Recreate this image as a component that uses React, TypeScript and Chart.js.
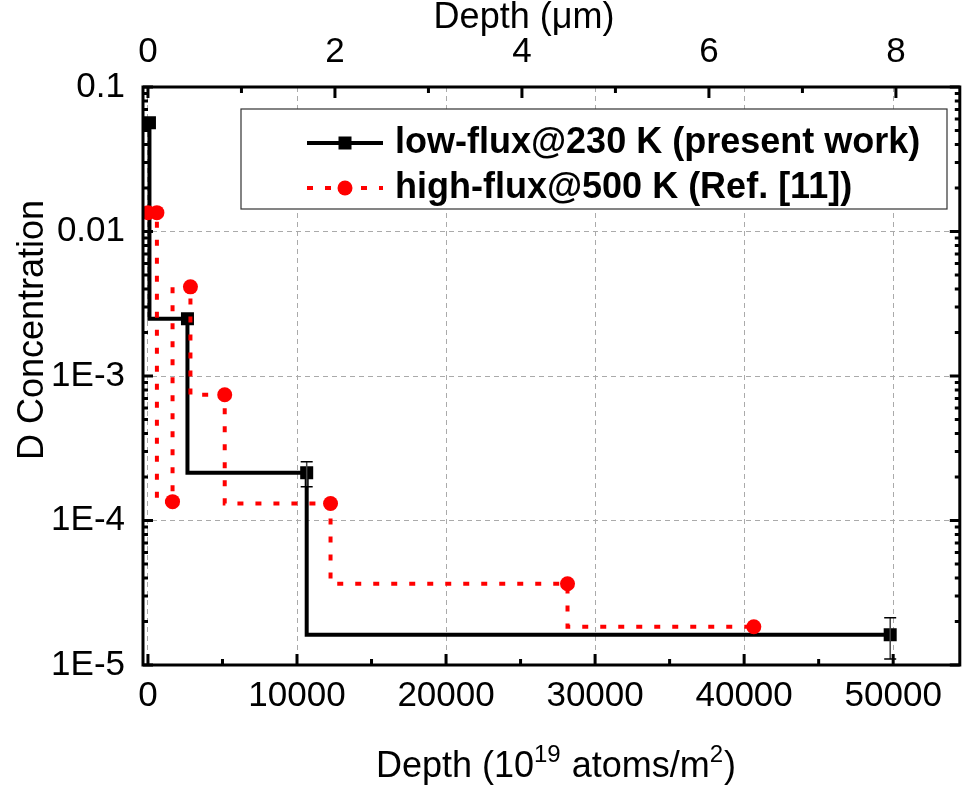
import React, { useEffect, useRef } from 'react';
import { Chart, registerables } from 'chart.js';

Chart.register(...registerables);

// ---- Data ----
const lowFluxDepth = [100, 2650, 10650, 49800];
const lowFluxConc = [0.0565, 2.49e-3, 2.14e-4, 1.62e-5];
const lowFluxErrLow: (number | null)[] = [null, null, 1.71e-4, 1.1e-5];
const lowFluxErrHigh: (number | null)[] = [null, null, 2.55e-4, 2.12e-5];

const highFluxDepth = [0, 600, 1650, 2850, 5150, 12250, 28150, 40650];
const highFluxConc = [0.0135, 0.0135, 1.35e-4, 4.14e-3, 7.41e-4, 1.31e-4, 3.65e-5, 1.84e-5];

const seriesLabels = ['low-flux@230 K (present work)', 'high-flux@500 K (Ref. [11])'];

const xTicks = [0, 10000, 20000, 30000, 40000, 50000];
const xMinorTicks = [5000, 15000, 25000, 35000, 45000];
const topTicks = [0, 2, 4, 6, 8];
const topMinorTicks = [1, 3, 5, 7];
const yTicks = [1e-5, 1e-4, 1e-3, 0.01, 0.1];
const yTickLabels = ['1E-5', '1E-4', '1E-3', '0.01', '0.1'];

const xMin = -333;
const xMax = 54470;
const umPerUnit = 1 / 6273;

const FONT = '"Liberation Sans", Arial, Helvetica, sans-serif';

const decor = {
  id: 'decor',
  afterDatasetsDraw(chart: any) {
    const ctx = chart.ctx;
    const xs = chart.scales.x;
    const ys = chart.scales.y;
    ctx.save();
    for (let i = 0; i < lowFluxDepth.length; i++) {
      const lo = lowFluxErrLow[i];
      const hi = lowFluxErrHigh[i];
      if (lo == null || hi == null) continue;
      const x = xs.getPixelForValue(lowFluxDepth[i]);
      const y1 = ys.getPixelForValue(lo);
      const y2 = ys.getPixelForValue(hi);
      ctx.strokeStyle = '#444';
      ctx.lineWidth = 1.5;
      ctx.beginPath();
      ctx.moveTo(x, y1);
      ctx.lineTo(x, y2);
      ctx.stroke();
      ctx.strokeStyle = '#000';
      ctx.beginPath();
      ctx.moveTo(x - 6, y1);
      ctx.lineTo(x + 6, y1);
      ctx.moveTo(x - 6, y2);
      ctx.lineTo(x + 6, y2);
      ctx.stroke();
    }
    ctx.restore();
  },
  afterDraw(chart: any) {
    const ctx = chart.ctx;
    const { left, right, top, bottom } = chart.chartArea;
    const xs = chart.scales.x;
    const x2 = chart.scales.x2;
    const ys = chart.scales.y;
    ctx.save();
    // ticks (inward)
    ctx.strokeStyle = '#000';
    ctx.lineWidth = 3;
    ctx.beginPath();
    xTicks.forEach((v) => {
      const x = xs.getPixelForValue(v);
      ctx.moveTo(x, bottom);
      ctx.lineTo(x, bottom - 11);
    });
    xMinorTicks.forEach((v) => {
      const x = xs.getPixelForValue(v);
      ctx.moveTo(x, bottom);
      ctx.lineTo(x, bottom - 6);
    });
    topTicks.forEach((v) => {
      const x = x2.getPixelForValue(v);
      ctx.moveTo(x, top);
      ctx.lineTo(x, top + 11);
    });
    topMinorTicks.forEach((v) => {
      const x = x2.getPixelForValue(v);
      ctx.moveTo(x, top);
      ctx.lineTo(x, top + 6);
    });
    for (let d = -5; d <= -1; d++) {
      const base = Math.pow(10, d);
      const y = ys.getPixelForValue(base);
      ctx.moveTo(left, y);
      ctx.lineTo(left + 10, y);
      ctx.moveTo(right, y);
      ctx.lineTo(right - 10, y);
      if (d < -1) {
        for (let m = 2; m <= 9; m++) {
          const ym = ys.getPixelForValue(base * m);
          ctx.moveTo(left, ym);
          ctx.lineTo(left + 5, ym);
          ctx.moveTo(right, ym);
          ctx.lineTo(right - 5, ym);
        }
      }
    }
    ctx.stroke();
    // frame
    ctx.lineWidth = 3;
    ctx.strokeRect(left, top, right - left, bottom - top);

    // legend
    const lx = 241, ly = 109, lw = 706, lh = 100;
    ctx.fillStyle = '#fff';
    ctx.fillRect(lx, ly, lw, lh);
    ctx.strokeStyle = '#333';
    ctx.lineWidth = 1.2;
    ctx.strokeRect(lx, ly, lw, lh);
    const rows = [143, 188];
    // row 1
    ctx.strokeStyle = '#000';
    ctx.lineWidth = 4;
    ctx.setLineDash([]);
    ctx.beginPath();
    ctx.moveTo(307, rows[0]);
    ctx.lineTo(383, rows[0]);
    ctx.stroke();
    ctx.fillStyle = '#000';
    ctx.fillRect(345 - 6.5, rows[0] - 6.5, 13, 13);
    // row 2
    ctx.strokeStyle = '#ff0000';
    ctx.setLineDash([6, 12]);
    ctx.beginPath();
    ctx.moveTo(307, rows[1]);
    ctx.lineTo(383, rows[1]);
    ctx.stroke();
    ctx.setLineDash([]);
    ctx.fillStyle = '#ff0000';
    ctx.beginPath();
    ctx.arc(345, rows[1], 7.5, 0, Math.PI * 2);
    ctx.fill();
    ctx.fillStyle = '#000';
    ctx.font = `bold 36px ${FONT}`;
    ctx.textAlign = 'left';
    ctx.textBaseline = 'middle';
    ctx.fillText(seriesLabels[0], 395, rows[0]);
    ctx.fillText(seriesLabels[1], 395, rows[1]);

    // axis titles
    ctx.font = `36px ${FONT}`;
    ctx.textBaseline = 'alphabetic';
    ctx.textAlign = 'center';
    ctx.fillText('Depth (\u03bcm)', 524, 28);

    // bottom title with superscripts
    const parts: [string, boolean][] = [
      ['Depth (10', false],
      ['19', true],
      [' atoms/m', false],
      ['2', true],
      [')', false],
    ];
    const mainFont = `36px ${FONT}`;
    const supFont = `24px ${FONT}`;
    let total = 0;
    parts.forEach(([t, s]) => {
      ctx.font = s ? supFont : mainFont;
      total += ctx.measureText(t).width + (s ? 1 : 0);
    });
    let cx = 556 - total / 2;
    const by = 777;
    ctx.textAlign = 'left';
    parts.forEach(([t, s]) => {
      ctx.font = s ? supFont : mainFont;
      ctx.fillText(t, cx, s ? by - 15 : by);
      cx += ctx.measureText(t).width + (s ? 1 : 0);
    });

    // y title
    ctx.font = `36px ${FONT}`;
    ctx.translate(43, 330);
    ctx.rotate(-Math.PI / 2);
    ctx.textAlign = 'center';
    ctx.fillText('D Concentration', 0, 0);
    ctx.restore();
  },
};

export default function App() {
  const ref = useRef<HTMLCanvasElement | null>(null);
  useEffect(() => {
    document.body.style.margin = '0';
    const canvas = ref.current;
    if (!canvas) return;
    const tickFont = { family: FONT, size: 35 };
    const chart = new Chart(canvas, {
      type: 'line',
      data: {
        datasets: [
          {
            label: seriesLabels[0],
            data: lowFluxDepth.map((x, i) => ({ x, y: lowFluxConc[i] })),
            borderColor: '#000',
            backgroundColor: '#000',
            borderWidth: 4,
            stepped: 'after',
            pointStyle: 'rect',
            pointRadius: 9.2,
            pointBackgroundColor: '#000',
            pointBorderWidth: 0,
            order: 1,
          },
          {
            label: seriesLabels[1],
            data: highFluxDepth.map((x, i) => ({ x, y: highFluxConc[i] })),
            borderColor: '#ff0000',
            backgroundColor: '#ff0000',
            borderWidth: 4,
            borderDash: [6, 12],
            borderCapStyle: 'butt',
            stepped: 'after',
            pointStyle: 'circle',
            pointRadius: 7.5,
            pointBackgroundColor: '#ff0000',
            pointBorderWidth: 0,
            order: 0,
          },
        ],
      } as any,
      options: {
        animation: false,
        responsive: false,
        maintainAspectRatio: false,
        layout: { padding: { left: 0, right: 4, top: 0, bottom: 0 } },
        plugins: { legend: { display: false }, tooltip: { enabled: false } },
        scales: {
          x: {
            type: 'linear',
            position: 'bottom',
            min: xMin,
            max: xMax,
            afterBuildTicks: (s: any) => {
              s.ticks = xTicks.map((v) => ({ value: v }));
            },
            afterFit: (s: any) => {
              s.height = 123;
            },
            grid: { color: '#aaaaaa', lineWidth: 1, drawTicks: false },
            border: { display: false, dash: [5, 4] },
            ticks: { font: tickFont, color: '#000', padding: 10, maxRotation: 0, callback: (v: any) => String(v) },
          },
          x2: {
            type: 'linear',
            axis: 'x',
            position: 'top',
            min: xMin * umPerUnit,
            max: xMax * umPerUnit,
            afterBuildTicks: (s: any) => {
              s.ticks = topTicks.map((v) => ({ value: v }));
            },
            afterFit: (s: any) => {
              s.height = 87;
            },
            grid: { display: false, drawTicks: false },
            border: { display: false },
            ticks: { font: tickFont, color: '#000', padding: 14, maxRotation: 0, callback: (v: any) => String(v) },
          },
          y: {
            type: 'logarithmic',
            position: 'left',
            min: 1e-5,
            max: 0.1,
            afterBuildTicks: (s: any) => {
              s.ticks = yTicks.map((v) => ({ value: v }));
            },
            afterFit: (s: any) => {
              s.width = 143;
            },
            grid: { color: '#aaaaaa', lineWidth: 1, drawTicks: false },
            border: { display: false, dash: [5, 4] },
            ticks: {
              font: tickFont,
              color: '#000',
              padding: 18,
              callback: (v: any) => {
                const i = yTicks.findIndex((t) => Math.abs(Math.log10(t) - Math.log10(v)) < 1e-6);
                return i >= 0 ? yTickLabels[i] : '';
              },
            },
          },
        },
      } as any,
      plugins: [decor],
    });
    return () => chart.destroy();
  }, []);
  return <canvas ref={ref} width={969} height={788} style={{ display: 'block' }} />;
}
